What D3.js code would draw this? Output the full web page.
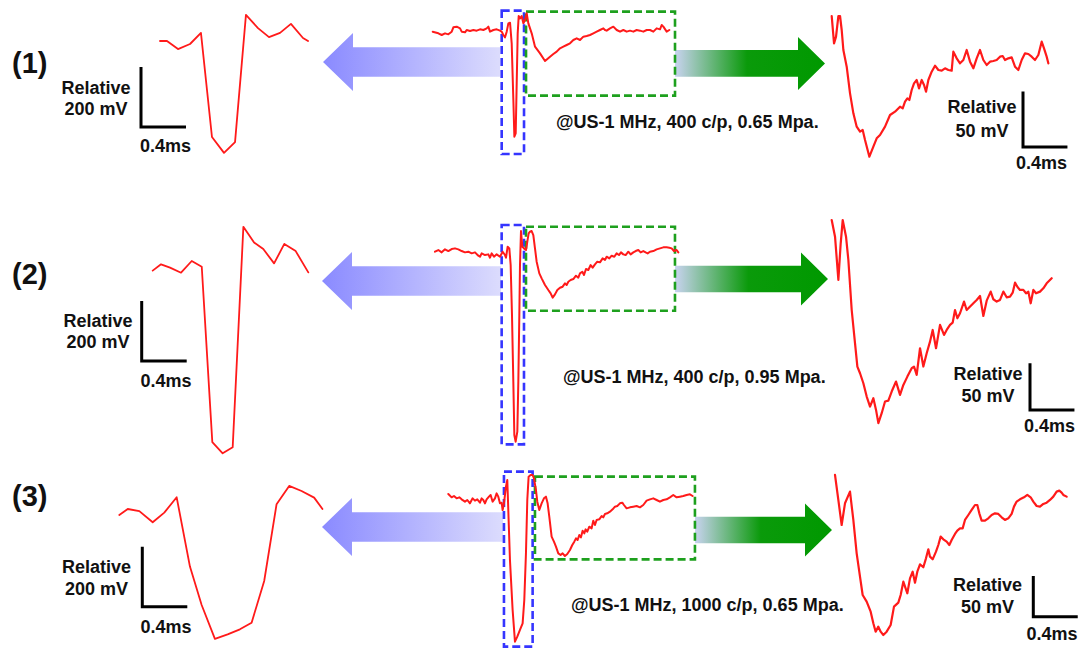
<!DOCTYPE html>
<html>
<head>
<meta charset="utf-8">
<script src="https://cdn.jsdelivr.net/npm/d3@7"></script>
<style>
  html, body { margin: 0; padding: 0; background: #ffffff; }
  svg { display: block; }
  text { font-family: "Liberation Sans", Arial, sans-serif; font-weight: bold; fill: #111111; }
</style>
</head>
<body>
<script>
// ---- Recordings: [time (ms), relative potential (mV)] ----
// Row (1): 400 c/p, 0.65 MPa
const spikeTrace1 = [[0,0],[0.062,0],[0.16,-27],[0.267,-10],[0.364,27],[0.462,-320],[0.569,-373],[0.667,-337],[0.764,87],[0.871,43],[0.969,13],[1.067,27],[1.164,57],[1.271,10],[1.316,0]];
const overviewTrace1 = [[0,-5],[0.17,-10],[0.27,-15],[0.37,-10],[0.47,-13],[0.57,-5],[0.62,8],[0.72,10],[0.82,5],[0.87,-5],[0.97,-7],[1.02,0],[1.12,-3],[1.22,0],[1.32,-2],[1.42,2],[1.52,0],[1.62,5],[1.67,10],[1.72,-5],[1.82,0],[1.92,2],[2.02,-2],[2.07,-5],[2.12,-15],[2.17,-22],[2.22,-5],[2.27,20],[2.32,22],[2.37,-40],[2.42,-210],[2.45,-320],[2.49,-310],[2.52,-160],[2.55,-10],[2.58,42],[2.62,35],[2.67,42],[2.72,20],[2.77,30],[2.82,50],[2.87,20],[2.97,-10],[3.07,-50],[3.22,-70],[3.37,-93],[3.52,-80],[3.62,-72],[3.72,-65],[3.82,-55],[3.92,-50],[4.02,-45],[4.12,-40],[4.22,-30],[4.32,-25],[4.42,-30],[4.52,-20],[4.62,-18],[4.72,-15],[4.82,-10],[4.92,-5],[5.02,0],[5.12,5],[5.17,0],[5.22,-2],[5.32,5],[5.42,10],[5.52,0],[5.62,-5],[5.72,0],[5.82,-5],[5.92,-2],[6.02,-5],[6.12,0],[6.22,-2],[6.32,-5],[6.42,0],[6.52,0],[6.62,-5],[6.72,5],[6.82,2],[6.87,15],[6.92,10],[7.02,-5],[7.1,0]];
const slowTrace1 = [[0,39.6],[0.021,15],[0.039,21],[0.06,39.6],[0.075,39.6],[0.09,27],[0.105,9],[0.135,-6],[0.165,-30],[0.195,-48],[0.225,-60],[0.255,-64.5],[0.279,-63],[0.3,-72],[0.339,-87],[0.375,-78],[0.405,-70.5],[0.435,-67.5],[0.48,-60],[0.525,-49.5],[0.57,-46.5],[0.615,-42],[0.639,-43.5],[0.66,-37.5],[0.681,-34.5],[0.699,-36],[0.72,-27],[0.741,-21],[0.765,-18],[0.786,-25.5],[0.81,-18],[0.831,-22.5],[0.849,-28.5],[0.87,-18],[0.9,-10.5],[0.93,-5.1],[0.96,-9],[0.99,-9.6],[1.02,-7.5],[1.05,-9],[1.08,-9.6],[1.095,7.5],[1.125,1.5],[1.155,-3],[1.185,0],[1.215,9],[1.245,-1.5],[1.275,-7.5],[1.305,1.5],[1.335,9],[1.365,0],[1.395,-4.5],[1.425,-1.5],[1.455,-0.9],[1.485,0],[1.515,3],[1.539,3.6],[1.56,0],[1.59,1.5],[1.62,2.4],[1.65,-6],[1.68,-9],[1.71,0],[1.74,6],[1.77,5.4],[1.8,3],[1.83,0],[1.86,4.5],[1.89,16.5],[1.911,10.5],[1.935,3],[1.95,-3]];

// Row (2): 400 c/p, 0.95 MPa
const spikeTrace2 = [[0,-12],[0.074,9],[0.154,-2],[0.252,-19],[0.347,20],[0.436,1],[0.53,-584],[0.622,-621],[0.711,-601],[0.806,134],[0.901,82],[0.983,60],[1.079,12],[1.17,77],[1.271,53],[1.383,-18]];
const overviewTrace2 = [[0,0],[0.1,5],[0.2,-2],[0.3,7],[0.4,2],[0.5,8],[0.6,10],[0.7,7],[0.8,2],[0.9,-2],[1.0,0],[1.1,-5],[1.2,-2],[1.3,-12],[1.35,-15],[1.4,-5],[1.5,-10],[1.6,-8],[1.65,-18],[1.7,-5],[1.77,-15],[1.85,-8],[1.95,-15],[2.03,0],[2.1,-10],[2.13,-18],[2.18,15],[2.23,10],[2.27,-40],[2.31,-190],[2.35,-390],[2.38,-550],[2.42,-570],[2.47,-540],[2.5,-390],[2.53,-190],[2.55,-40],[2.58,62],[2.62,15],[2.67,10],[2.73,5],[2.77,30],[2.81,55],[2.85,60],[2.9,62],[2.95,50],[3.0,10],[3.05,-30],[3.13,-65],[3.2,-80],[3.3,-100],[3.4,-115],[3.47,-125],[3.53,-138],[3.6,-128],[3.67,-115],[3.75,-108],[3.83,-105],[3.9,-95],[3.95,-100],[4.0,-90],[4.07,-85],[4.15,-82],[4.23,-72],[4.3,-78],[4.35,-65],[4.42,-60],[4.47,-70],[4.53,-52],[4.6,-55],[4.67,-40],[4.73,-48],[4.8,-38],[4.87,-30],[4.95,-32],[5.03,-20],[5.1,-25],[5.15,-15],[5.23,-20],[5.3,-12],[5.38,-15],[5.45,-5],[5.52,-10],[5.58,-2],[5.65,-8],[5.72,-10],[5.8,0],[5.87,-8],[5.95,-2],[6.02,2],[6.1,5],[6.17,-2],[6.25,2],[6.32,-2],[6.38,-5],[6.45,0],[6.55,2],[6.65,7],[6.75,10],[6.85,13],[6.95,13],[7.03,12],[7.1,10],[7.17,2],[7.25,5],[7.3,-2]];
const slowTrace2 = [[0,78.5],[0.03,60.7],[0.06,14.3],[0.081,53.6],[0.099,78.5],[0.129,60.7],[0.15,35.7],[0.18,-17.9],[0.21,-53.6],[0.231,-78.5],[0.255,-85.7],[0.285,-96.4],[0.315,-110.7],[0.345,-121.4],[0.375,-112.5],[0.399,-125],[0.42,-139.2],[0.45,-128.5],[0.48,-116],[0.51,-115],[0.54,-105.3],[0.579,-94.6],[0.615,-108.9],[0.645,-98.2],[0.681,-89.3],[0.72,-80.3],[0.741,-78.5],[0.765,-87.5],[0.795,-58.9],[0.825,-78.5],[0.855,-64.3],[0.885,-51.8],[0.909,-39.3],[0.939,-58.9],[0.975,-33.9],[1.011,-44.6],[1.035,-39.3],[1.065,-33.9],[1.089,-31.4],[1.11,-17.9],[1.131,-26.8],[1.155,-21.4],[1.191,-8.9],[1.215,-17.9],[1.239,-15],[1.275,-10.7],[1.305,-7.1],[1.335,-2.9],[1.365,-24.3],[1.395,-7.9],[1.431,1.8],[1.455,-6.4],[1.485,-8.9],[1.515,-7.1],[1.545,1.8],[1.575,-4.3],[1.605,-3.6],[1.629,0.7],[1.65,11.4],[1.674,6.4],[1.695,3.6],[1.725,3.6],[1.749,0],[1.77,1.8],[1.791,-10.7],[1.815,3.6],[1.839,0],[1.875,1.8],[1.905,5.4],[1.935,10.7],[1.98,16.1]];

// Row (3): 1000 c/p, 0.65 MPa
const spikeTrace3 = [[0,-10],[0.075,10],[0.178,3],[0.297,-34],[0.4,-2],[0.51,49],[0.628,-182],[0.732,-310],[0.85,-423],[0.963,-408],[1.072,-391],[1.176,-369],[1.288,-230],[1.398,26],[1.51,87],[1.62,70],[1.732,48],[1.806,10]];
const overviewTrace3 = [[0,18],[0.1,8],[0.17,12],[0.25,5],[0.33,8],[0.4,2],[0.5,-5],[0.57,0],[0.65,-10],[0.73,5],[0.8,-2],[0.87,2],[0.95,-8],[1.0,5],[1.05,0],[1.1,-10],[1.15,2],[1.22,10],[1.27,15],[1.33,-5],[1.4,5],[1.45,20],[1.5,10],[1.55,-10],[1.6,-8],[1.63,-30],[1.67,-10],[1.73,40],[1.77,60],[1.8,-30],[1.85,-180],[1.93,-330],[2.0,-425],[2.07,-410],[2.15,-390],[2.23,-370],[2.28,-300],[2.33,-160],[2.37,0],[2.41,70],[2.47,75],[2.53,75],[2.57,65],[2.63,30],[2.67,-5],[2.73,-30],[2.8,-10],[2.87,5],[2.93,10],[2.98,-10],[3.03,-50],[3.1,-110],[3.17,-125],[3.23,-140],[3.3,-160],[3.37,-165],[3.43,-160],[3.5,-168],[3.57,-162],[3.65,-150],[3.72,-135],[3.78,-125],[3.83,-115],[3.88,-120],[3.93,-105],[3.98,-112],[4.03,-92],[4.08,-100],[4.12,-88],[4.17,-95],[4.23,-80],[4.3,-85],[4.35,-62],[4.4,-75],[4.45,-60],[4.53,-58],[4.6,-48],[4.65,-52],[4.7,-42],[4.77,-40],[4.85,-35],[4.93,-28],[5.0,-20],[5.07,-18],[5.15,-10],[5.22,-8],[5.27,-15],[5.35,-25],[5.45,-22],[5.55,-20],[5.65,-18],[5.75,-22],[5.85,-15],[5.95,-2],[6.05,2],[6.15,5],[6.25,0],[6.35,-5],[6.45,0],[6.55,2],[6.65,8],[6.75,15],[6.85,8],[6.95,10],[7.05,12],[7.15,15],[7.25,17],[7.33,12]];
const slowTrace3 = [[0,34.9],[0.03,4.1],[0.06,-26.7],[0.09,0],[0.135,14.4],[0.165,-20.5],[0.195,-61.5],[0.225,-90.2],[0.249,-112.8],[0.285,-121],[0.321,-133.3],[0.345,-147.6],[0.366,-157.9],[0.39,-151.7],[0.411,-157.9],[0.435,-162],[0.465,-157.9],[0.501,-149.7],[0.531,-127.1],[0.57,-122.2],[0.591,-112.8],[0.615,-96.4],[0.651,-110.7],[0.675,-92.3],[0.699,-84.1],[0.72,-97.6],[0.741,-84.1],[0.765,-75],[0.795,-78.7],[0.819,-67.7],[0.84,-56.6],[0.855,-65.6],[0.879,-68.9],[0.909,-59.5],[0.93,-51.3],[0.951,-41],[0.975,-44.3],[1.005,-47.2],[1.029,-51.3],[1.05,-45.1],[1.08,-37.7],[1.101,-33.6],[1.125,-30.8],[1.149,-30.8],[1.17,-20.5],[1.2,-14.4],[1.23,-8.2],[1.26,-2.1],[1.281,-2.1],[1.299,-12.3],[1.32,-21.3],[1.35,-21.3],[1.38,-18.5],[1.41,-14.4],[1.44,-12.3],[1.47,-13.1],[1.5,-17.2],[1.53,-20.5],[1.56,-18.5],[1.59,-13.1],[1.611,-4.1],[1.635,2.1],[1.665,4.9],[1.701,7.4],[1.731,10.3],[1.761,7.4],[1.785,2.1],[1.815,-3.3],[1.845,-4.1],[1.875,-0.8],[1.905,0.8],[1.935,4.1],[1.965,8.2],[1.995,14.4],[2.019,15.6],[2.04,13.1],[2.055,10.3],[2.085,8.2]];

// ---- Labels ----
const rowLabels = ["(1)", "(2)", "(3)"];
const conditions = ["@US-1 MHz, 400 c/p, 0.65 Mpa.", "@US-1 MHz, 400 c/p, 0.95 Mpa.", "@US-1 MHz, 1000 c/p, 0.65 Mpa."];
const barTime = 0.4;          // ms
const spikeBarVolt = 200;     // mV
const slowBarVolt = 50;       // mV
const barTimeLabel = "0.4ms";
const spikeBarLabel = ["Relative", "200 mV"];
const slowBarLabel = ["Relative", "50 mV"];

// Zoom windows on the overview traces: [t0, t1, vTop, vBottom]
const spikeWindows = [[2.07, 2.74, 58, -372], [2.0, 2.67, 80, -578], [1.67, 2.53, 85, -440]];
const slowWindows  = [[2.80, 7.27, 55, -197], [2.73, 7.2, 75, -177], [2.6, 7.4, 70, -178]];

const spikeTraces = [spikeTrace1, spikeTrace2, spikeTrace3];
const overviewTraces = [overviewTrace1, overviewTrace2, overviewTrace3];
const slowTraces = [slowTrace1, slowTrace2, slowTrace3];

// ---- Layout of each row ----
const layout = [
  { label: [12, 73], cond: [556, 128],
    spike: { x0: 160,   y0: 41,    pxMs: 112.5, pxMv: 0.3 },
    spikeBar: { x: 141, y: 127, text: [96, 94, 115], tLabel: [140, 152] },
    over: { x0: 432.7, y0: 30,    pxMs: 33.33, pxMv: 0.3333 },
    slow: { x0: 831.7, y0: 60,    pxMs: 111.1, pxMv: 1.111 },
    slowBar: { x: 1023, y: 147, text: [982, 113, 137], tLabel: [1016, 169] },
    blueArrow: { tip: 323, cy: 62, end: 500 },
    greenArrow: { start: 675, cy: 63.4, tip: 825 } },
  { label: [12, 284], cond: [563, 383],
    spike: { x0: 152.7, y0: 267,   pxMs: 112.5, pxMv: 0.3 },
    spikeBar: { x: 141.7, y: 361, text: [98, 326.7, 348.3], tLabel: [140.5, 386.7] },
    over: { x0: 435,   y0: 251.7, pxMs: 33.33, pxMv: 0.3333 },
    slow: { x0: 831.7, y0: 293.3, pxMs: 111.1, pxMv: 0.933 },
    slowBar: { x: 1030, y: 410, text: [988, 380, 401.7], tLabel: [1024, 431.7] },
    blueArrow: { tip: 322, cy: 281, end: 501 },
    greenArrow: { start: 675, cy: 279, tip: 828 } },
  { label: [12, 506], cond: [571, 611],
    spike: { x0: 119.3, y0: 512,   pxMs: 112.5, pxMv: 0.3 },
    spikeBar: { x: 142.3, y: 606.7, text: [96.5, 573.3, 595], tLabel: [140.5, 633.3] },
    over: { x0: 448.3, y0: 500,   pxMs: 33.33, pxMv: 0.3333 },
    slow: { x0: 835,   y0: 503.3, pxMs: 111.1, pxMv: 0.813 },
    slowBar: { x: 1033.3, y: 616.7, text: [987.5, 591, 613.3], tLabel: [1026.5, 640] },
    blueArrow: { tip: 322, cy: 527, end: 503 },
    greenArrow: { start: 695, cy: 530, tip: 832 } }
];

const W = 1080, H = 649;
const FS = 18;
const svg = d3.select("body").append("svg").attr("width", W).attr("height", H);

const defs = svg.append("defs");
const blueGrad = defs.append("linearGradient").attr("id", "blueGrad")
  .attr("x1", "0%").attr("x2", "100%").attr("y1", "0%").attr("y2", "0%");
blueGrad.append("stop").attr("offset", "0%").attr("stop-color", "#8a8aff");
blueGrad.append("stop").attr("offset", "100%").attr("stop-color", "#dcdcfd");
const greenGrad = defs.append("linearGradient").attr("id", "greenGrad")
  .attr("x1", "0%").attr("x2", "100%").attr("y1", "0%").attr("y2", "0%");
greenGrad.append("stop").attr("offset", "0%").attr("stop-color", "#c9d3f0");
greenGrad.append("stop").attr("offset", "48%").attr("stop-color", "#0a9a0a");
greenGrad.append("stop").attr("offset", "100%").attr("stop-color", "#009900");

function panelScales(p, data) {
  const tMax = d3.max(data, d => d[0]);
  const x = d3.scaleLinear().domain([0, tMax]).range([p.x0, p.x0 + tMax * p.pxMs]);
  const y = d3.scaleLinear().domain([0, 100]).range([p.y0, p.y0 - 100 * p.pxMv]);
  return { x, y };
}

function drawTrace(g, s, data, width) {
  const line = d3.line().x(d => s.x(d[0])).y(d => s.y(d[1]));
  g.append("path").datum(data)
    .attr("d", line)
    .attr("fill", "none")
    .attr("stroke", "#ff1a1a")
    .attr("stroke-width", width)
    .attr("stroke-linejoin", "round")
    .attr("stroke-linecap", "round");
}

function drawScaleBar(g, s, bar, volt, texts) {
  const len = s.x(barTime) - s.x(0);
  const hgt = s.y(0) - s.y(volt);
  g.append("path")
    .attr("d", `M${bar.x},${bar.y - hgt} L${bar.x},${bar.y} L${bar.x + len},${bar.y}`)
    .attr("fill", "none").attr("stroke", "#000").attr("stroke-width", 3)
    .attr("stroke-linecap", "butt").attr("stroke-linejoin", "miter");
  g.append("text").attr("x", bar.text[0]).attr("y", bar.text[1])
    .attr("text-anchor", "middle").attr("font-size", FS).text(texts[0]);
  g.append("text").attr("x", bar.text[0]).attr("y", bar.text[2])
    .attr("text-anchor", "middle").attr("font-size", FS).text(texts[1]);
  g.append("text").attr("x", bar.tLabel[0]).attr("y", bar.tLabel[1])
    .attr("font-size", FS).text(barTimeLabel);
}

layout.forEach((L, i) => {
  const g = svg.append("g");

  // Arrows (blue points back to the spike, green forward to the slow wave)
  const ba = L.blueArrow, bHead = 30, bHH = 29, bSH = 14.7;
  g.append("path")
    .attr("d", `M${ba.tip},${ba.cy} L${ba.tip + bHead},${ba.cy - bHH} L${ba.tip + bHead},${ba.cy - bSH}
                L${ba.end},${ba.cy - bSH} L${ba.end},${ba.cy + bSH} L${ba.tip + bHead},${ba.cy + bSH}
                L${ba.tip + bHead},${ba.cy + bHH} Z`)
    .attr("fill", "url(#blueGrad)");
  const ga = L.greenArrow, gHead = 27, gHH = 26.5, gSH = 13.3;
  g.append("path")
    .attr("d", `M${ga.start},${ga.cy - gSH} L${ga.tip - gHead},${ga.cy - gSH} L${ga.tip - gHead},${ga.cy - gHH}
                L${ga.tip},${ga.cy} L${ga.tip - gHead},${ga.cy + gHH} L${ga.tip - gHead},${ga.cy + gSH}
                L${ga.start},${ga.cy + gSH} Z`)
    .attr("fill", "url(#greenGrad)");

  // Overview recording with its two zoom windows
  const so = panelScales(L.over, overviewTraces[i]);
  const sw = spikeWindows[i], lw = slowWindows[i];
  g.append("rect")
    .attr("x", so.x(sw[0])).attr("y", so.y(sw[2]))
    .attr("width", so.x(sw[1]) - so.x(sw[0])).attr("height", so.y(sw[3]) - so.y(sw[2]))
    .attr("fill", "none").attr("stroke", "#3535ff").attr("stroke-width", 2.6)
    .attr("stroke-dasharray", "8,4");
  g.append("rect")
    .attr("x", so.x(lw[0])).attr("y", so.y(lw[2]))
    .attr("width", so.x(lw[1]) - so.x(lw[0])).attr("height", so.y(lw[3]) - so.y(lw[2]))
    .attr("fill", "none").attr("stroke", "#1ea01e").attr("stroke-width", 2.6)
    .attr("stroke-dasharray", "8,4");
  drawTrace(g, so, overviewTraces[i], 2);

  // Expanded spike (left) and slow response (right)
  const ss = panelScales(L.spike, spikeTraces[i]);
  drawTrace(g, ss, spikeTraces[i], 1.8);
  drawScaleBar(g, ss, L.spikeBar, spikeBarVolt, spikeBarLabel);

  const sl = panelScales(L.slow, slowTraces[i]);
  drawTrace(g, sl, slowTraces[i], 2.2);
  drawScaleBar(g, sl, L.slowBar, slowBarVolt, slowBarLabel);

  // Row number and stimulation condition
  g.append("text").attr("x", L.label[0]).attr("y", L.label[1])
    .attr("font-size", 29).text(rowLabels[i]);
  g.append("text").attr("x", L.cond[0]).attr("y", L.cond[1])
    .attr("font-size", FS).text(conditions[i]);
});
</script>
</body>
</html>
